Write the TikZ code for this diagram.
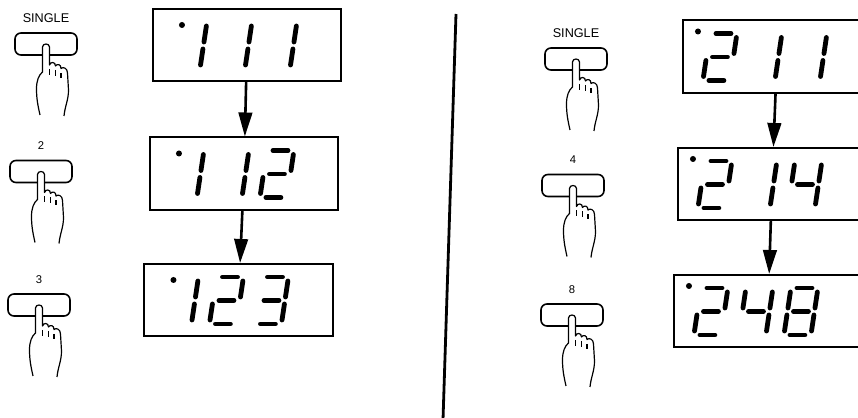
\documentclass[tikz,border=0pt]{standalone}
\usepackage{fontspec}
\setmainfont{Liberation Sans}
\usetikzlibrary{positioning,calc,arrows.meta}

\tikzset{
  pics/seven/.style={code={
    \begin{scope}[xslant=.15]
      \path (6,0) coordinate (sg-a1) (21,0) coordinate (sg-a2)
            (27,4) coordinate (sg-b1) (27,20) coordinate (sg-b2)
            (27,27) coordinate (sg-c1) (27,43) coordinate (sg-c2)
            (6,47) coordinate (sg-d1) (21,47) coordinate (sg-d2)
            (0,27) coordinate (sg-e1) (0,43) coordinate (sg-e2)
            (0,4) coordinate (sg-f1) (0,20) coordinate (sg-f2)
            (6,23.5) coordinate (sg-g1) (21,23.5) coordinate (sg-g2);
    \end{scope}
    \foreach \s in {#1}
      \draw[seg] (sg-\s1) -- (sg-\s2);
  }},
  pics/hand/.style={code={
    \draw[handline,fill=white] (-6,71) .. controls (-8,62) and (-9.5,55) .. (-9.5,45)
      .. controls (-9.5,36) and (-7,31) .. (-3.5,28) -- (-3.5,3)
      .. controls (-3.5,-1) and (3.5,-1) .. (3.5,3) -- (3.5,21)
      .. controls (4.5,17.5) and (9.5,17.5) .. (9.5,22)
      .. controls (11,19.5) and (15,20) .. (15,24.5)
      .. controls (17,22.5) and (21.5,24) .. (21.5,29) -- (22.5,46)
      .. controls (22.5,56) and (19,62) .. (18,72);
    \draw[handline] (3.5,25) -- (3.5,31) (9.5,26) -- (9.5,32) (15,29) -- (15,34);
  }}
}

\begin{document}
\begin{tikzpicture}[x=0.025cm,y=-0.025cm,
  panel/.style={draw,line width=0.05cm,minimum width=4.7cm,minimum height=1.8cm,inner sep=0pt},
  pushkey/.style={draw,line width=0.04cm,rounded corners=0.15cm,minimum width=1.55cm,minimum height=0.55cm,inner sep=0pt},
  keylabel/.style={inner sep=0pt,font=\fontsize{8}{9}\selectfont},
  flow/.style={line width=0.065cm,-{Triangle[length=0.6cm,width=0.34cm]}},
  seg/.style={line width=0.12cm,line cap=round},
  handline/.style={line width=0.03cm,line join=round},
  divider/.style={line width=0.07cm}]
  \useasboundingbox (0,0) rectangle (858,418);
  \clip (0,0) rectangle (858,418);

  % left: keys
  \node[pushkey] (BL1) at (46,44) {};
  \node[pushkey] (BL2) at (41,171.5) {};
  \node[pushkey] (BL3) at (39,305) {};
  \node[keylabel,font=\fontsize{9}{10}\selectfont,above=0.24cm of BL1] (TL1) {SINGLE};
  \node[keylabel,above=0.24cm of BL2] (TL2) {2};
  \node[keylabel,above=0.24cm of BL3] (TL3) {3};
  \pic at (BL1) {hand};
  \pic at (BL2) {hand};
  \pic at (BL3) {hand};

  % left: displays
  \node[panel] (L1) at (247,45) {};
  \node[panel] (L2) at (244,173.5) {};
  \node[panel] (L3) at (238.5,300) {};
  \draw[flow] (L1) -- (L2);
  \draw[flow] (L2) -- (L3);
  \fill ($(L1.north west)+(30,17)$) circle (0.075cm);
  \pic at ($(L1.north west)+(28,14)$) {seven={b,c}};
  \pic at ($(L1.north west)+(73,14)$) {seven={b,c}};
  \pic at ($(L1.north west)+(118,14)$) {seven={b,c}};
  \fill ($(L2.north west)+(30,17)$) circle (0.075cm);
  \pic at ($(L2.north west)+(28,14)$) {seven={b,c}};
  \pic at ($(L2.north west)+(73,14)$) {seven={b,c}};
  \pic at ($(L2.north west)+(118,14)$) {seven={a,b,g,e,d}};
  \fill ($(L3.north west)+(30,17)$) circle (0.075cm);
  \pic at ($(L3.north west)+(28,14)$) {seven={b,c}};
  \pic at ($(L3.north west)+(73,14)$) {seven={a,b,g,e,d}};
  \pic at ($(L3.north west)+(118,14)$) {seven={a,b,g,c,d}};

  % divider
  \coordinate (DT) at (456,14);
  \coordinate (DB) at (443,420);
  \draw[divider] (DT) -- (DB);

  % right: keys
  \node[pushkey] (BR1) at (576,59) {};
  \node[pushkey] (BR2) at (573,185.5) {};
  \node[pushkey] (BR3) at (572,315) {};
  \node[keylabel,font=\fontsize{9}{10}\selectfont,above=0.24cm of BR1] (TR1) {SINGLE};
  \node[keylabel,above=0.24cm of BR2] (TR2) {4};
  \node[keylabel,above=0.24cm of BR3] (TR3) {8};
  \pic at (BR1) {hand};
  \pic at (BR2) {hand};
  \pic at (BR3) {hand};

  % right: displays
  \node[panel] (R1) at (777,56.5) {};
  \node[panel] (R2) at (772,184) {};
  \node[panel] (R3) at (768,311) {};
  \draw[flow] (R1) -- (R2);
  \draw[flow] (R2) -- (R3);
  \fill ($(R1.north west)+(16,12)$) circle (0.075cm);
  \pic at ($(R1.north west)+(28,14)$) {seven={a,b,g,e,d}};
  \pic at ($(R1.north west)+(73,14)$) {seven={b,c}};
  \pic at ($(R1.north west)+(118,14)$) {seven={b,c}};
  \fill ($(R2.north west)+(16,12)$) circle (0.075cm);
  \pic at ($(R2.north west)+(28,14)$) {seven={a,b,g,e,d}};
  \pic at ($(R2.north west)+(73,14)$) {seven={b,c}};
  \pic at ($(R2.north west)+(118,14)$) {seven={f,g,b,c}};
  \fill ($(R3.north west)+(16,12)$) circle (0.075cm);
  \pic at ($(R3.north west)+(28,14)$) {seven={a,b,g,e,d}};
  \pic at ($(R3.north west)+(73,14)$) {seven={f,g,b,c}};
  \pic at ($(R3.north west)+(118,14)$) {seven={a,b,c,d,e,f,g}};
\end{tikzpicture}
\end{document}
